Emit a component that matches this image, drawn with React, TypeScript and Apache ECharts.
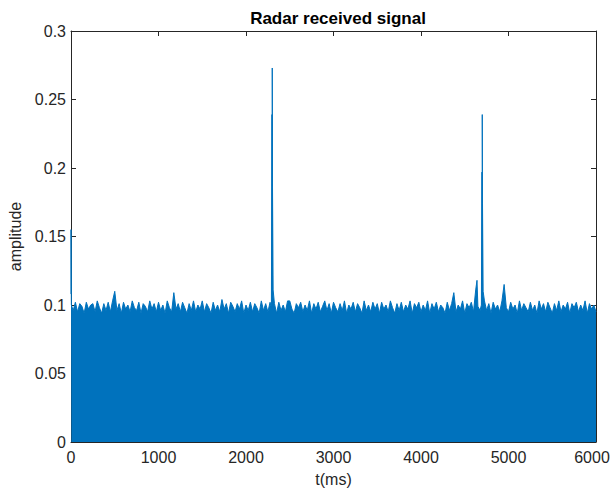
import React, { useEffect, useRef } from "react";
import * as echarts from "echarts";

// Sampling step (ms) of the noise-floor envelope below
const STEP_MS = 25;

// Upper envelope of the received noise, one value per 25 ms from 0 to 6000 ms
const noiseAmp: number[] = [
  0.108, 0.096, 0.102, 0.095, 0.101, 0.099, 0.094, 0.102, 0.097, 0.1,
  0.101, 0.095, 0.103, 0.098, 0.094, 0.101, 0.096, 0.102, 0.095, 0.103,
  0.11, 0.096, 0.101, 0.094, 0.102, 0.097, 0.1, 0.095, 0.103, 0.098,
  0.096, 0.102, 0.094, 0.101, 0.099, 0.095, 0.103, 0.097, 0.101, 0.095,
  0.102, 0.096, 0.1, 0.094, 0.103, 0.098, 0.095, 0.109, 0.097, 0.101,
  0.095, 0.102, 0.098, 0.094, 0.101, 0.096, 0.103, 0.095, 0.1, 0.097,
  0.103, 0.095, 0.101, 0.098, 0.094, 0.102, 0.096, 0.1, 0.095, 0.104,
  0.097, 0.101, 0.094, 0.102, 0.099, 0.095, 0.101, 0.097, 0.103, 0.094,
  0.1, 0.096, 0.102, 0.095, 0.101, 0.098, 0.094, 0.103, 0.096, 0.101,
  0.095, 0.102, 0.097, 0.101, 0.094, 0.102, 0.096, 0.1, 0.095, 0.103,
  0.103, 0.097, 0.094, 0.101, 0.098, 0.102, 0.095, 0.1, 0.096, 0.103,
  0.094, 0.101, 0.097, 0.102, 0.095, 0.099, 0.103, 0.096, 0.101, 0.094,
  0.102, 0.098, 0.095, 0.101, 0.096, 0.103, 0.094, 0.1, 0.097, 0.102,
  0.095, 0.101, 0.098, 0.094, 0.103, 0.096, 0.1, 0.095, 0.102, 0.097,
  0.101, 0.094, 0.102, 0.097, 0.1, 0.095, 0.103, 0.098, 0.094, 0.101,
  0.096, 0.102, 0.095, 0.1, 0.097, 0.103, 0.094, 0.101, 0.098, 0.102,
  0.095, 0.1, 0.096, 0.103, 0.094, 0.101, 0.097, 0.102, 0.095, 0.1,
  0.098, 0.094, 0.102, 0.096, 0.101, 0.109, 0.095, 0.1, 0.097, 0.103,
  0.094, 0.101, 0.098, 0.102, 0.095, 0.111, 0.099, 0.096, 0.1, 0.103,
  0.096, 0.101, 0.094, 0.102, 0.097, 0.1, 0.095, 0.103, 0.115, 0.098,
  0.095, 0.102, 0.097, 0.1, 0.094, 0.103, 0.096, 0.101, 0.098, 0.095,
  0.102, 0.096, 0.1, 0.094, 0.103, 0.097, 0.101, 0.095, 0.102, 0.098,
  0.094, 0.101, 0.096, 0.103, 0.095, 0.1, 0.097, 0.102, 0.094, 0.101,
  0.098, 0.102, 0.095, 0.1, 0.096, 0.103, 0.094, 0.101, 0.097, 0.1,
  0.095,
];

// Echo peaks and the initial transient
const spikeTimes: number[] = [0, 4, 2290, 2297, 2300, 2303, 2310, 4640, 4690, 4697, 4700, 4703, 4710];
const spikeAmps: number[] = [0.155, 0.1, 0.098, 0.239, 0.273, 0.186, 0.111, 0.118, 0.1, 0.197, 0.239, 0.174, 0.11];

const xTicks = { min: 0, max: 6000, interval: 1000 };
const yTicks = { min: 0, max: 0.3, interval: 0.05 };

const AXIS_COLOR = "#262626";
const FONT = "'Liberation Sans', Arial, sans-serif";

export default function App() {
  const ref = useRef<HTMLDivElement>(null);

  useEffect(() => {
    if (!ref.current) return;
    const chart = echarts.init(ref.current, undefined, { renderer: "svg" });

    const pts: [number, number][] = noiseAmp.map((v, i) => [i * STEP_MS, v]);
    spikeTimes.forEach((t, i) => pts.push([t, spikeAmps[i]]));
    pts.sort((a, b) => a[0] - b[0]);

    const baseAxisLine = { show: true, lineStyle: { color: AXIS_COLOR, width: 1 } };
    const tick = { show: true, inside: true, length: 5, lineStyle: { color: AXIS_COLOR } };

    chart.setOption({
      animation: false,
      textStyle: { fontFamily: FONT },
      title: {
        text: "Radar received signal",
        left: 333,
        top: 5,
        textAlign: "center",
        textStyle: { fontFamily: FONT, fontSize: 17, fontWeight: "bold", color: "#000" },
      },
      grid: { left: 71, right: 15, top: 31, bottom: 52, containLabel: false, outerBoundsMode: "none" },
      xAxis: [
        {
          type: "value",
          ...xTicks,
          position: "bottom",
          axisLine: { ...baseAxisLine, onZero: false },
          axisTick: tick,
          splitLine: { show: false },
          axisLabel: {
            color: AXIS_COLOR,
            fontSize: 16,
            margin: 7,
            fontFamily: FONT,
            formatter: (v: number) => (v === xTicks.max ? `{last|${v}}` : String(v)),
            rich: {
              last: { fontSize: 16, fontFamily: FONT, color: AXIS_COLOR, padding: [0, 8, 0, 0] },
            },
          },
          name: "t(ms)",
          nameLocation: "middle",
          nameGap: 29,
          nameTextStyle: { color: AXIS_COLOR, fontSize: 16, fontFamily: FONT },
        },
        {
          type: "value",
          ...xTicks,
          position: "top",
          axisLine: { ...baseAxisLine, onZero: false },
          axisTick: tick,
          splitLine: { show: false },
          axisLabel: { show: false },
        },
      ],
      yAxis: [
        {
          type: "value",
          ...yTicks,
          position: "left",
          axisLine: { ...baseAxisLine, onZero: false },
          axisTick: tick,
          splitLine: { show: false },
          axisLabel: {
            color: AXIS_COLOR,
            fontSize: 16,
            margin: 5,
            fontFamily: FONT,
            formatter: (v: number) => String(Math.round(v * 100) / 100),
          },
          name: "amplitude",
          nameLocation: "middle",
          nameGap: 41,
          nameTextStyle: { color: AXIS_COLOR, fontSize: 16, fontFamily: FONT },
        },
        {
          type: "value",
          ...yTicks,
          position: "right",
          axisLine: { ...baseAxisLine, onZero: false },
          axisTick: tick,
          splitLine: { show: false },
          axisLabel: { show: false },
        },
      ],
      series: [
        {
          type: "line",
          data: pts,
          xAxisIndex: 0,
          yAxisIndex: 0,
          showSymbol: false,
          symbol: "none",
          lineStyle: { color: "#0072BD", width: 1 },
          areaStyle: { color: "#0072BD", opacity: 1, origin: "start" },
          z: 1,
        },
      ],
    });

    return () => chart.dispose();
  }, []);

  return (
    <div
      ref={ref}
      style={{ position: "fixed", left: 0, top: 0, width: 611, height: 494, background: "#fff" }}
    />
  );
}
